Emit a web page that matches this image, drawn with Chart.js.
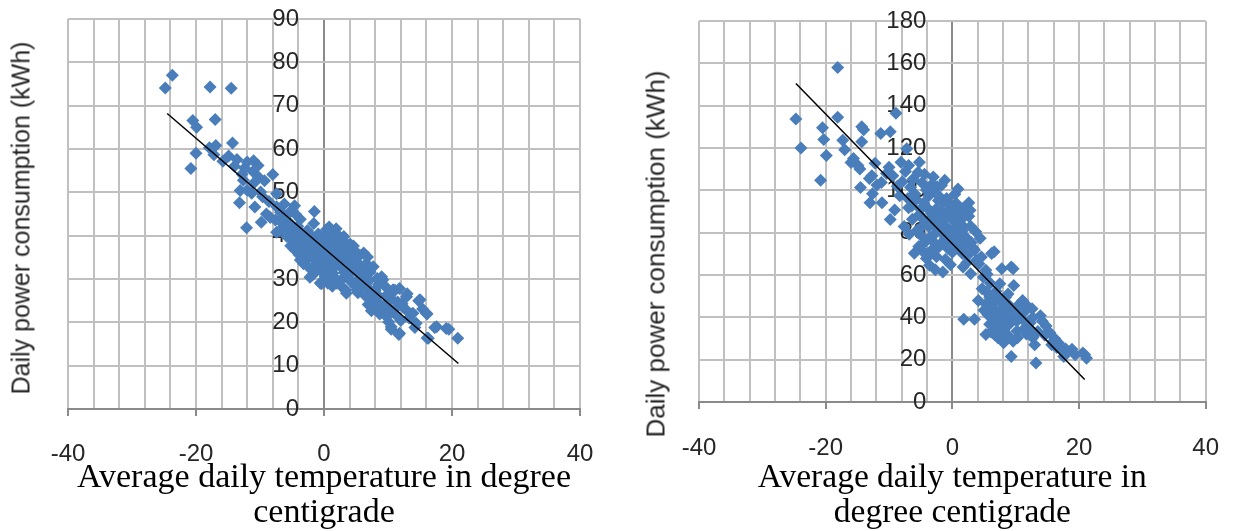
<!DOCTYPE html>
<html>
<head>
<meta charset="utf-8">
<script src="https://cdn.jsdelivr.net/npm/chart.js@4.4.1/dist/chart.umd.min.js"></script>
<style>
  html, body { margin: 0; padding: 0; background: #fff; }
  #wrap { position: relative; width: 1244px; height: 531px; background: #fff; overflow: hidden; }
  .panel { position: absolute; top: 0; height: 531px; }
  .ytitle {
    position: absolute;
    transform: translate(-50%, -50%) rotate(-90deg);
    white-space: nowrap;
    font-family: "Liberation Sans", Arial, sans-serif;
    color: #262626;
  }
</style>
</head>
<body>
<div id="wrap">
  <div class="panel" style="left:0;width:620px"><canvas id="chartA"></canvas></div>
  <div class="panel" style="left:620px;width:624px"><canvas id="chartB"></canvas></div>
  <div class="ytitle" style="left:21px;top:218px;font-size:25px">Daily power consumption (kWh)</div>
  <div class="ytitle" style="left:656px;top:254px;font-size:26px">Daily power consumption (kWh)</div>
</div>
<script>
// Data - left chart
const tempA = [
  -24.8, -23.7, -17.8, -14.5, -20.5, -19.9, -17.0, -20.0, -20.8, -17.9, -16.9, -17.2, -14.3, -14.9, -13.6, -12.0,
  -11.0, -10.3, -11.1, -8.0, -12.8, -13.1, -12.0, -13.2, -12.1, -10.8, -9.8, -9.0, -9.6, -11.3, -11.0, -9.9,
  -7.4, -7.4, -6.3, -6.9, -5.8, -1.5, -6.2, -4.6, -3.7, -7.6, -7.4, -5.4, -4.9, -4.1, -3.5, -3.1,
  -2.6, -2.4, -1.9, -1.2, -0.6, -2.8, -2.2, -3.0, -3.6, -4.3, -2.0, -1.4, -0.8, -0.4, -1.0, -1.7,
  -0.3, 0.0, 0.4, 0.8, 1.4, 1.9, 0.3, 0.9, 1.5, 2.0, 2.5, 3.1, 2.2, 1.2, 0.7, 0.2,
  0.6, 1.5, 2.0, -0.6, -1.1, 2.6, 1.4, 3.5, 3.5, 4.6, 4.6, 5.1, 3.0, 3.9, 3.4, 3.5,
  5.1, 4.9, 6.2, 6.6, 7.7, 6.0, 5.5, 4.4, 7.1, 8.0, 6.6, 7.7, 8.7, 9.8, 9.2, 9.0,
  10.8, 11.8, 9.9, 11.1, 12.9, 13.0, 14.8, 15.4, 15.0, 16.0, 13.6, 11.1, 8.7, 7.4, 10.5, 11.8,
  10.5, 11.7, 14.4, 14.2, 16.3, 16.1, 17.6, 17.3, 19.1, 19.5, 20.9, 12.9, 13.9, 16.1, 8.2, 9.4,
  10.2, 12.2, 6.9, 5.8, 8.5, 10.0, 7.4, 5.2, 4.2, 2.9, -5.2, -4.7, -3.9, -3.2, -2.3, -6.8,
  -8.6, -10.2, -12.4, -9.3, -8.4, -6.0, -5.5, -4.4, -1.3, -0.1, 1.1, 2.7, 3.3, 4.1, 6.8, 5.6,
  -15.8, -14.0, -12.6, -6.5, -5.9, -5.1, -4.0, -3.3, -2.9, -2.1, -1.6, -0.9, 0.1, 0.5, 1.0, 1.7,
  2.3, 2.9, 3.7, 4.3, 4.8, 5.9, 6.4, 7.2, 8.3, 9.5, 10.6, 11.5, 12.4, 13.3, 9.1, 8.0,
  -1.8, -0.2, 1.8, 2.8, -3.7, -4.8, -5.6, -4.5, -3.8, -2.7, -1.5, -0.7, 0.3, 1.0, 1.8, 2.4,
  3.2, 4.0, 4.5, 5.3, 6.1, 6.9, 7.6, 8.4, 9.2, 10.1, 10.9, 12.0, -2.2, -0.4, 1.3
];
const powerA = [
  74.1, 77.0, 74.3, 74.0, 66.6, 65.0, 66.8, 59.0, 55.5, 60.3, 60.8, 58.7, 61.4, 58.4, 57.6, 57.0,
  57.3, 56.2, 54.8, 54.1, 54.2, 50.4, 50.5, 47.6, 41.8, 46.6, 43.1, 45.0, 49.0, 49.8, 52.1, 50.1,
  49.7, 46.7, 44.4, 41.2, 39.8, 45.6, 47.3, 46.9, 43.8, 43.6, 40.8, 43.0, 41.5, 42.2, 40.6, 39.8,
  41.2, 37.6, 35.2, 33.6, 32.9, 34.6, 35.3, 36.8, 38.3, 39.1, 38.7, 39.4, 37.1, 36.0, 34.3, 32.7,
  33.2, 35.1, 41.4, 42.0, 40.5, 41.6, 38.6, 37.0, 36.2, 38.3, 38.2, 39.8, 35.0, 33.8, 31.8, 30.6,
  29.0, 30.5, 29.0, 29.1, 32.1, 32.8, 31.3, 30.5, 35.9, 36.8, 37.6, 32.1, 33.9, 34.8, 27.4, 26.7,
  27.5, 28.5, 36.0, 33.6, 32.8, 31.2, 30.2, 31.7, 29.7, 27.4, 25.9, 24.4, 22.8, 21.3, 29.8, 30.5,
  27.5, 27.8, 25.8, 27.4, 25.9, 26.6, 25.0, 23.1, 25.2, 22.1, 21.9, 21.9, 21.9, 22.7, 19.0, 17.5,
  18.4, 17.2, 19.8, 18.8, 16.3, 16.4, 19.0, 18.8, 18.6, 18.4, 16.3, 22.8, 22.1, 21.9, 25.1, 24.0,
  23.2, 24.3, 27.9, 28.8, 28.7, 26.6, 26.3, 33.8, 29.4, 30.1, 37.7, 36.9, 35.6, 33.5, 32.6, 45.4,
  47.9, 53.5, 55.6, 52.7, 44.2, 42.2, 40.3, 44.9, 36.6, 39.1, 39.3, 37.0, 36.4, 38.0, 35.1, 35.5,
  57.2, 56.0, 52.8, 42.8, 44.6, 45.8, 41.0, 37.2, 38.6, 40.2, 42.8, 40.4, 40.0, 36.7, 35.2, 37.6,
  40.0, 38.9, 37.9, 35.4, 33.0, 32.4, 30.7, 31.6, 30.1, 28.4, 25.4, 24.7, 23.4, 21.0, 23.4, 24.8,
  30.9, 31.5, 33.0, 28.2, 34.4, 38.7, 41.6, 40.1, 39.6, 36.1, 37.9, 38.5, 34.3, 31.0, 35.4, 33.9,
  31.5, 32.7, 29.1, 26.8, 28.1, 24.1, 23.2, 26.3, 22.4, 20.1, 22.8, 20.4, 30.4, 28.9, 28.3
];
const trendTempA = [-24.5, 21.0];
const trendPowerA = [68.2, 10.5];

// Data - right chart
const tempB = [
  -18.1, -24.7, -18.1, -20.5, -23.9, -20.3, -19.9, -20.8, -17.3, -17.0, -14.3, -14.0, -14.3, -11.3, -9.8, -8.9,
  -14.9, -14.6, -14.5, -12.7, -13.0, -11.1, -9.8, -11.2, -10.0, -9.4, -8.1, -6.9, -7.2, -5.2, -5.4, -13.1,
  -11.9, -10.4, -12.2, -4.6, -3.6, -1.5, -6.9, -5.7, -3.2, -1.7, 0.4, 2.6, 2.6, 1.7, 2.9, 4.4,
  3.5, 6.6, 6.2, 3.8, 5.3, 7.8, 9.3, 9.6, 1.7, 2.9, 9.7, 4.7, 5.9, 4.1, 5.3, 8.4,
  11.1, 11.5, 12.7, 13.9, 14.8, 12.7, 13.0, 13.2, 9.3, 1.8, 3.5, 5.3, 7.2, 9.6, 9.0, 15.7,
  17.0, 18.2, 17.6, 19.4, 20.6, 21.2, 20.9, 5.9, 7.2, 8.4, 6.6, 9.0, 10.2, 11.5, 10.2,
  -7.9, -6.6, -5.9, -4.8, -4.1, -3.7, -3.0, -2.4, -2.0, -1.5, -0.9, -0.3, 0.6, 1.2, 1.8, -4.5,
  -3.9, -3.3, -2.6, -2.0, -1.3, -0.6, 0.1, 0.8, 1.4, -5.2, -4.4, -3.7, -3.0, -2.3, -1.6, -0.9,
  -0.2, 0.5, 1.1, 2.2, -5.6, -4.9, -4.2, -3.5, -2.8, -2.1, -1.4, -0.7, 0.0, 0.9, 1.6, -6.0,
  -5.3, -3.9, -2.5, -1.1, 2.3, -0.3, -8.3, -9.1, -7.0, -6.3, -7.6, -6.8, 3.0, 3.7, 2.4, 4.2,
  4.9, 6.0, 5.0, 6.4, 7.6, 8.1, 7.0, 6.1, 8.7, 10.8, 11.9, 12.6, 14.2, 15.4, 16.2, 16.8,
  18.9, 10.3, 11.7, 8.4, 7.8, 6.9, 7.5, 8.8, -3.0, -1.2, 0.9, -2.7, -16.0, -15.6, -12.6, -8.7,
  -7.4, -6.2, -4.4, -2.2, -0.5, 0.3, 1.9, 2.8, -1.9, -2.9, -4.7, 0.4, 1.3, -1.1, 3.3, 4.6,
  5.5, 6.8, 7.9, 5.6, 8.6, 9.9, 7.3, 6.3, 12.2, 14.6, 15.9, 17.9, -6.4, -5.0, -3.4, -2.4,
  -1.8, -0.8, 0.2, 0.8, 1.6, -0.4, -3.1, -4.1, 2.0, 5.4, 6.2, 7.1, 7.7, 8.1, 6.7, 8.9,
  10.4, 11.0, 12.3, 13.5, 16.5
];
const powerB = [
  158.0, 133.7, 134.5, 129.6, 120.0, 124.0, 116.5, 104.8, 123.7, 119.2, 130.0, 128.6, 122.9, 126.9, 127.7, 136.4,
  111.7, 110.1, 101.3, 106.9, 94.1, 94.1, 86.2, 103.7, 110.9, 106.9, 113.3, 111.7, 119.7, 113.3, 108.5, 105.6,
  102.5, 108.0, 112.8, 71.0, 64.6, 61.4, 91.8, 95.7, 102.9, 102.4, 98.1, 94.1, 87.8, 83.0, 83.0, 77.4,
  71.8, 71.0, 70.2, 67.0, 62.2, 63.0, 63.8, 63.0, 63.8, 60.6, 55.0, 53.5, 49.5, 47.9, 46.3, 49.5,
  47.9, 43.1, 39.9, 40.7, 35.9, 30.3, 27.1, 18.4, 21.5, 39.1, 39.1, 31.9, 30.3, 28.7, 36.7, 27.1,
  25.5, 23.9, 21.5, 22.3, 23.1, 20.7, 22.3, 36.7, 41.5, 43.9, 43.1, 39.9, 38.3, 35.1, 33.5,
  104.1, 101.5, 98.3, 103.6, 100.2, 97.4, 99.8, 101.7, 97.0, 94.6, 96.2, 92.8, 93.9, 90.3, 88.1, 94.0,
  91.5, 89.2, 91.1, 88.3, 86.0, 88.9, 85.7, 84.1, 86.2, 88.6, 85.7, 82.9, 84.8, 81.5, 79.7, 82.6,
  79.1, 77.2, 79.8, 77.6, 81.0, 78.6, 75.8, 77.9, 75.1, 73.4, 76.1, 72.5, 70.8, 73.6, 70.1, 70.3,
  73.5, 70.2, 68.6, 67.3, 65.9, 64.9, 97.4, 90.7, 96.1, 86.3, 82.9, 79.2, 75.4, 80.4, 69.2, 65.3,
  58.9, 56.1, 43.3, 39.6, 37.3, 33.9, 35.4, 33.1, 31.8, 41.4, 45.2, 44.0, 38.1, 32.7, 29.9, 27.8,
  24.9, 30.4, 32.1, 40.4, 46.8, 52.3, 55.9, 51.0, 106.3, 104.8, 100.6, 62.5, 113.2, 115.0, 98.4, 101.9,
  108.9, 105.3, 107.6, 95.2, 90.6, 88.2, 92.0, 90.6, 85.3, 79.0, 83.1, 81.7, 75.3, 77.5, 72.6, 68.5,
  60.4, 48.3, 44.5, 41.2, 36.2, 43.0, 38.5, 46.1, 34.6, 31.5, 28.6, 25.0, 92.6, 91.1, 86.9, 84.0,
  90.2, 93.4, 90.1, 86.9, 80.9, 75.7, 72.3, 67.8, 73.8, 52.0, 44.8, 49.6, 34.4, 28.0, 31.8, 46.0,
  45.7, 39.3, 37.4, 33.3, 25.8
];
const trendTempB = [-24.7, 20.9];
const trendPowerB = [150.5, 10.6];

// Axis ticks
const xMin = -40, xMax = 40, xStep = 4, xLabelStep = 20;

// Colors
const POINT_COLOR = '#4a7ebb';
const GRID_COLOR = '#c0c0c0';
const AXIS_COLOR = '#8a8a8a';
const TEXT_COLOR = '#262626';

function toPoints(xs, ys) {
  return xs.map((x, i) => ({ x: x, y: ys[i] }));
}

// Chart Setup
// The value axis crosses at x = 0 (the x grid line at 0 is drawn darker as the axis line);
// the y scale itself sits a little to the left so its labels keep Excel's gap from that line.
function makeChart(id, temps, powers, trendX, trendY, cfg) {
  const ctx = document.getElementById(id).getContext('2d');
  return new Chart(ctx, {
    type: 'scatter',
    data: {
      datasets: [{
        type: 'line',
        data: toPoints(trendX, trendY),
        borderColor: '#000000',
        borderWidth: 1.5,
        pointRadius: 0,
        fill: false,
        order: 0
      }, {
        data: toPoints(temps, powers),
        pointStyle: 'rectRot',
        pointRadius: 6.5,
        pointBorderWidth: 0,
        backgroundColor: POINT_COLOR,
        borderColor: POINT_COLOR,
        order: 1
      }]
    },
    options: {
      responsive: true,
      maintainAspectRatio: false,
      animation: false,
      layout: { padding: cfg.padding },
      scales: {
        x: {
          type: 'linear',
          position: 'bottom',
          min: xMin,
          max: xMax,
          afterFit: (scale) => { scale.height = cfg.xHeight; },
          grid: {
            color: (c) => c.tick && c.tick.value === 0 ? AXIS_COLOR : GRID_COLOR,
            lineWidth: 2,
            tickLength: 7,
            tickColor: (c) => c.tick && c.tick.value % xLabelStep === 0 ? AXIS_COLOR : 'rgba(0,0,0,0)',
            tickWidth: 2
          },
          border: { color: AXIS_COLOR, width: 2 },
          ticks: {
            stepSize: xStep,
            autoSkip: false,
            maxRotation: 0,
            padding: cfg.xTickPad,
            color: TEXT_COLOR,
            font: { family: '"Liberation Sans", Arial, sans-serif', size: 24 },
            callback: (v) => v % xLabelStep === 0 ? String(v) : ''
          },
          title: {
            display: true,
            text: cfg.xTitle,
            color: '#000000',
            padding: { top: 0, bottom: 0 },
            font: { family: '"Liberation Serif", "Times New Roman", serif', size: cfg.xTitleSize, lineHeight: 35 / cfg.xTitleSize }
          }
        },
        y: {
          type: 'linear',
          position: { x: cfg.yLabelAt },
          min: 0,
          max: cfg.yMax,
          grid: {
            color: (c) => c.tick && c.tick.value === 0 ? AXIS_COLOR : GRID_COLOR,
            lineWidth: 2,
            drawTicks: false
          },
          border: { display: false },
          ticks: {
            stepSize: cfg.yStep,
            padding: 0,
            color: TEXT_COLOR,
            font: { family: '"Liberation Sans", Arial, sans-serif', size: 24 }
          }
        }
      },
      plugins: {
        legend: { display: false },
        tooltip: { enabled: false }
      }
    }
  });
}

makeChart('chartA', tempA, powerA, trendTempA, trendPowerA, {
  padding: { left: 68, right: 40, top: 19, bottom: 0 },
  xHeight: 122,
  xTickPad: 24,
  yLabelAt: -3.9,
  yMax: 90,
  yStep: 10,
  xTitleSize: 34,
  xTitle: ['Average daily temperature in degree', 'centigrade']
});

makeChart('chartB', tempB, powerB, trendTempB, trendPowerB, {
  padding: { left: 79, right: 20, top: 21, bottom: 0 },
  xHeight: 129,
  xTickPad: 25,
  yLabelAt: -4.1,
  yMax: 180,
  yStep: 20,
  xTitleSize: 33.5,
  xTitle: ['Average daily temperature in', 'degree centigrade']
});
</script>
</body>
</html>
